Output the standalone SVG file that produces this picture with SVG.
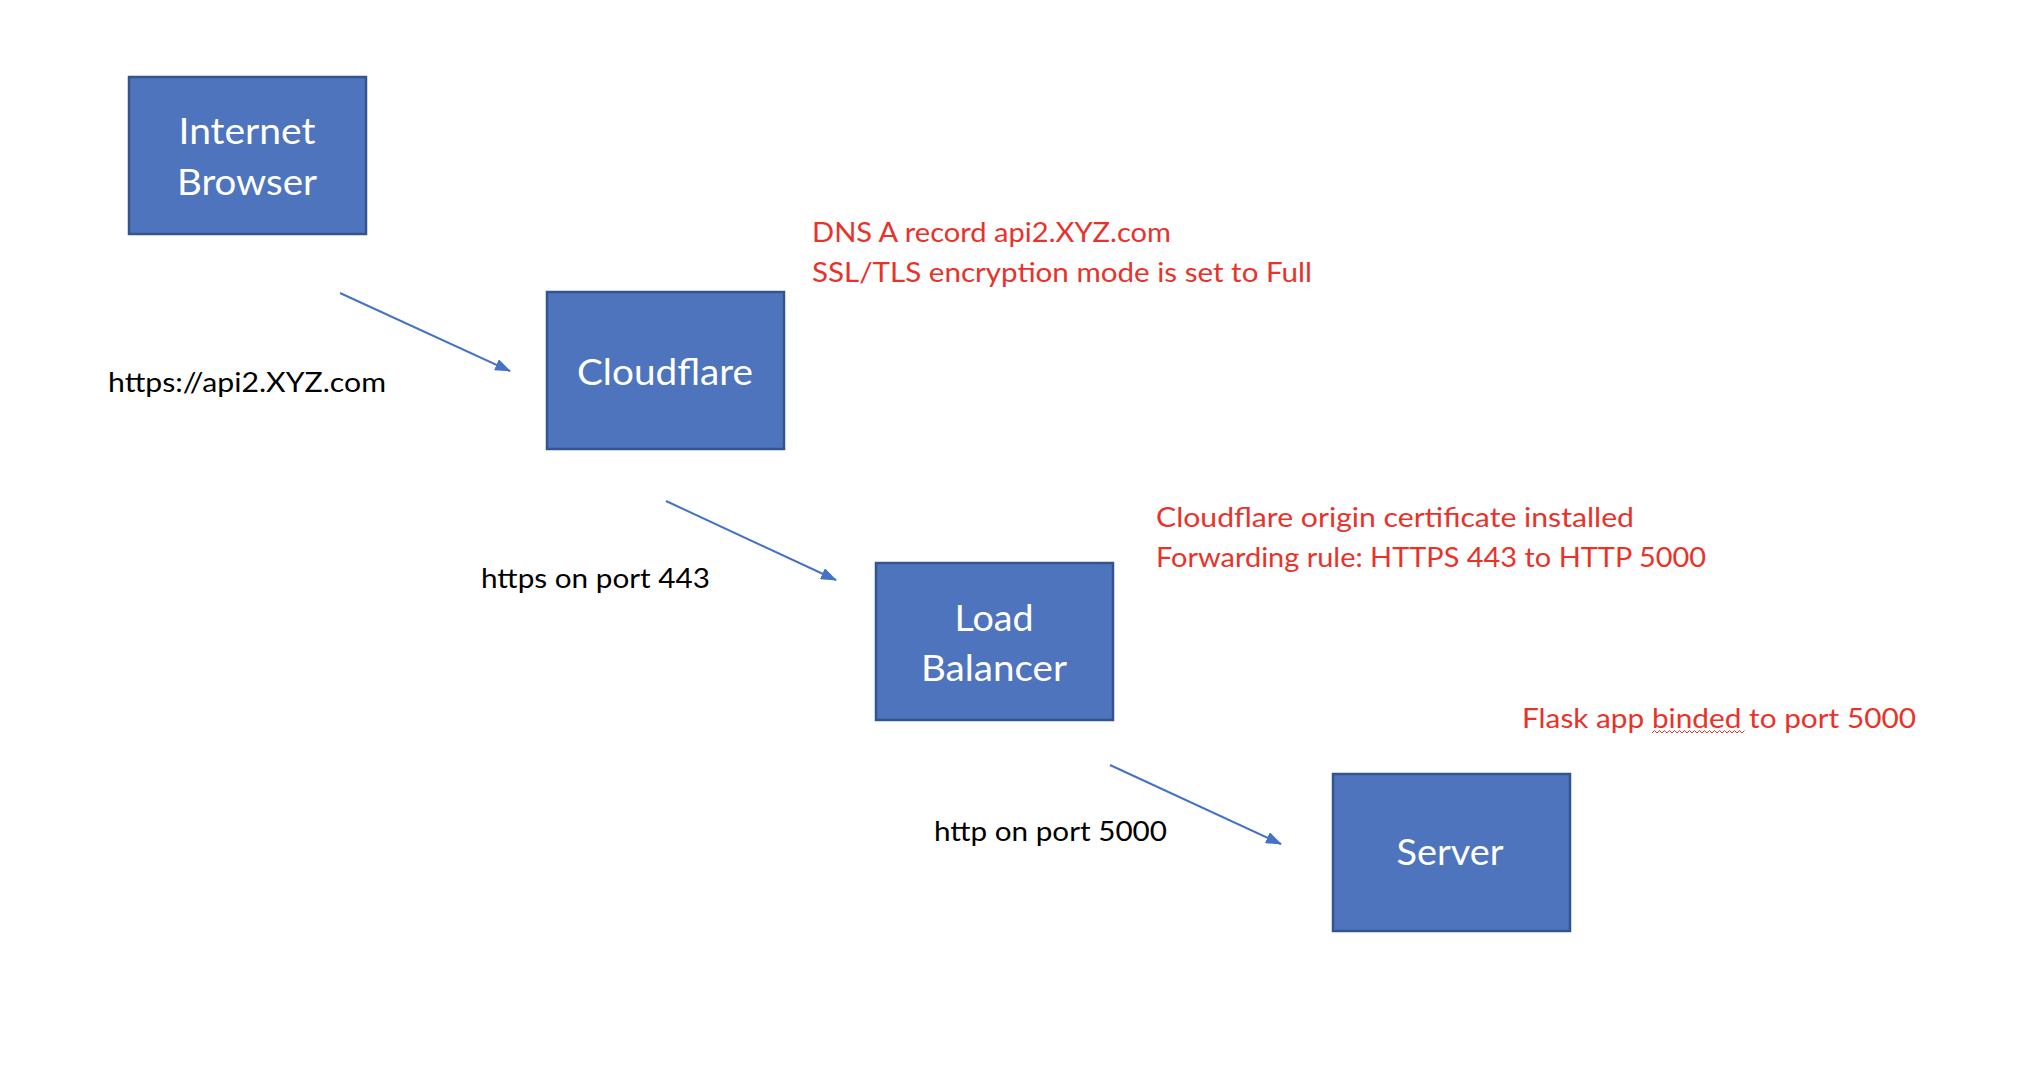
<svg xmlns="http://www.w3.org/2000/svg" width="2024" height="1080" viewBox="0 0 2024 1080">
<style>
.box{fill:#4E74BE;stroke:#34548F;stroke-width:2.5}
.lbl{font-family:Lato,"Open Sans",sans-serif;font-size:37px;fill:#FFFFFF;text-anchor:middle}
.txt{font-family:Lato,"Open Sans",sans-serif;font-size:27px;fill:#000000}
.red{font-family:Lato,"Open Sans",sans-serif;font-size:27px;fill:#E8322A}
.conn{stroke:#4472C4;stroke-width:2;fill:none}
</style>
<defs>
<marker id="arr" markerUnits="userSpaceOnUse" markerWidth="16" markerHeight="12" refX="15" refY="6" orient="auto">
<path d="M0,0 L16,6 L0,12 Z" fill="#4472C4"/>
</marker>
</defs>
<rect width="2024" height="1080" fill="#FFFFFF"/>
<g id="connectors">
<line class="conn" x1="340" y1="293" x2="510" y2="371" marker-end="url(#arr)"/>
<line class="conn" x1="666" y1="501" x2="836" y2="580" marker-end="url(#arr)"/>
<line class="conn" x1="1110" y1="765" x2="1281" y2="844" marker-end="url(#arr)"/>
</g>
<g id="browser">
<rect class="box" x="129" y="77" width="237" height="157"/>
<text class="lbl" x="247" y="144" textLength="137" lengthAdjust="spacingAndGlyphs">Internet</text>
<text class="lbl" x="247" y="195" textLength="140" lengthAdjust="spacingAndGlyphs">Browser</text>
</g>
<g id="cloudflare">
<rect class="box" x="547" y="292" width="237" height="157"/>
<text class="lbl" x="665" y="385" textLength="176" lengthAdjust="spacingAndGlyphs">Cloudflare</text>
</g>
<g id="loadbalancer">
<rect class="box" x="876" y="563" width="237" height="157"/>
<text class="lbl" x="994" y="631" textLength="79" lengthAdjust="spacingAndGlyphs">Load</text>
<text class="lbl" x="994" y="681" textLength="146" lengthAdjust="spacingAndGlyphs">Balancer</text>
</g>
<g id="server">
<rect class="box" x="1333" y="774" width="237" height="157"/>
<text class="lbl" x="1450" y="865" textLength="107" lengthAdjust="spacingAndGlyphs">Server</text>
</g>
<g id="labels">
<text class="txt" x="108" y="392" textLength="278" lengthAdjust="spacingAndGlyphs">https://api2.XYZ.com</text>
<text class="txt" x="481" y="588" textLength="229" lengthAdjust="spacingAndGlyphs">https on port 443</text>
<text class="txt" x="934" y="841" textLength="233" lengthAdjust="spacingAndGlyphs">http on port 5000</text>
</g>
<g id="notes">
<text class="red" x="812" y="242" textLength="359" lengthAdjust="spacingAndGlyphs">DNS A record api2.XYZ.com</text>
<text class="red" x="812" y="282" textLength="500" lengthAdjust="spacingAndGlyphs">SSL/TLS encryption mode is set to Full</text>
<text class="red" x="1156" y="527" textLength="478" lengthAdjust="spacingAndGlyphs">Cloudflare origin certificate installed</text>
<text class="red" x="1156" y="567" textLength="550" lengthAdjust="spacingAndGlyphs">Forwarding rule: HTTPS 443 to HTTP 5000</text>
<text class="red" x="1522" y="728" textLength="394" lengthAdjust="spacingAndGlyphs">Flask app binded to port 5000</text>
<path d="M1652,733 l2.5,-2.5 l2.5,2.5 l2.5,-2.5 l2.5,2.5 l2.5,-2.5 l2.5,2.5 l2.5,-2.5 l2.5,2.5 l2.5,-2.5 l2.5,2.5 l2.5,-2.5 l2.5,2.5 l2.5,-2.5 l2.5,2.5 l2.5,-2.5 l2.5,2.5 l2.5,-2.5 l2.5,2.5 l2.5,-2.5 l2.5,2.5 l2.5,-2.5 l2.5,2.5 l2.5,-2.5 l2.5,2.5 l2.5,-2.5 l2.5,2.5 l2.5,-2.5 l2.5,2.5 l2.5,-2.5 l2.5,2.5 l2.5,-2.5 l2.5,2.5 l2.5,-2.5 l2.5,2.5 l2.5,-2.5 l2.5,2.5 l2.5,-2.5" fill="none" stroke="#E8322A" stroke-width="1"/>
</g>
</svg>
